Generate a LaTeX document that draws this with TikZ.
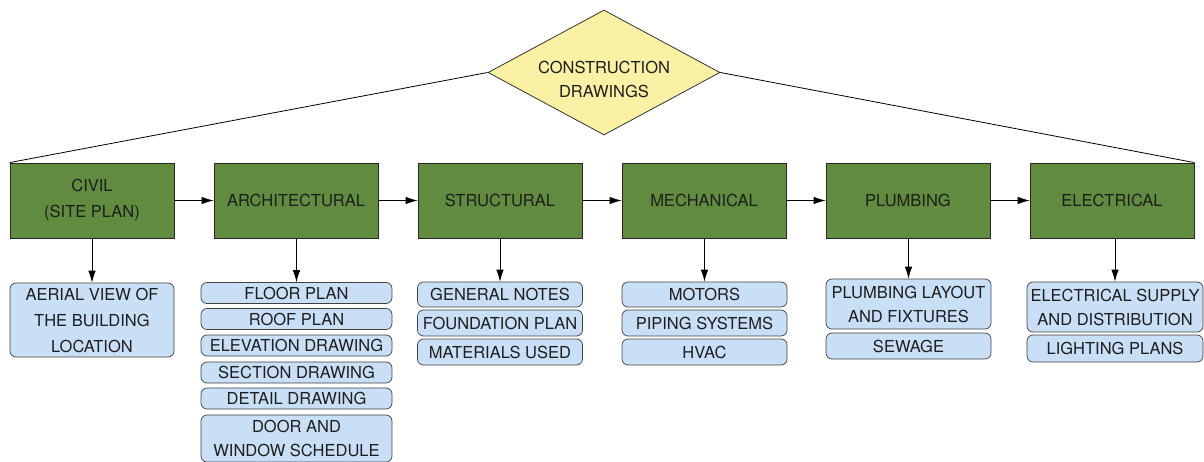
\documentclass[tikz,border=0pt]{standalone}
\usepackage{fontspec}
\setmainfont{TeX Gyre Heros}
\usetikzlibrary{shapes.geometric,arrows.meta}

\definecolor{drawgreen}{HTML}{618B3F}
\definecolor{drawblue}{HTML}{C9DFF5}
\definecolor{drawyellow}{HTML}{FBF1A4}
\definecolor{drawtext}{HTML}{1E1E1E}

\begin{document}
\begin{tikzpicture}[x=1pt,y=-1pt,
  top/.style={diamond, draw=black!80, fill=drawyellow, line width=0.8pt,
    minimum width=232pt, minimum height=125pt, aspect=1.856, inner sep=0pt,
    align=center, text=drawtext, font=\fontsize{16.5}{24}\selectfont},
  main/.style={rectangle, draw=black!85, fill=drawgreen, line width=0.8pt,
    minimum width=164pt, minimum height=75pt, inner sep=0pt,
    align=center, text=drawtext, font=\fontsize{16.5}{26}\selectfont},
  sub/.style={rectangle, rounded corners=6pt, draw=black!75, fill=drawblue,
    line width=0.7pt, inner sep=0pt, align=center, text=drawtext,
    font=\fontsize{16.5}{24}\selectfont},
  arr/.style={line width=0.8pt, -{Latex[length=12pt,width=7.5pt]}}]

\useasboundingbox (0,0) rectangle (1204,462);

% top
\node[top] (cd) at (604,72.5) {\raisebox{-13pt}[0pt][0pt]{\begin{tabular}{@{}c@{}}CONSTRUCTION\\DRAWINGS\end{tabular}}};

% main disciplines
\node[main] (civil) at (92,200.5) {CIVIL\\(SITE PLAN)};
\node[main] (arch) at (296,200.5) {ARCHITECTURAL};
\node[main] (struct) at (500,200.5) {STRUCTURAL};
\node[main] (mech) at (704,200.5) {MECHANICAL};
\node[main] (plumb) at (908,200.5) {PLUMBING};
\node[main] (elec) at (1112,200.5) {ELECTRICAL};

\draw[line width=0.8pt] (cd.west) -- (civil.north west);
\draw[line width=0.8pt] (cd.east) -- (elec.north east);

\draw[arr] (civil) -- (arch);
\draw[arr] (arch) -- (struct);
\draw[arr] (struct) -- (mech);
\draw[arr] (mech) -- (plumb);
\draw[arr] (plumb) -- (elec);

% civil
\node[sub, minimum width=164pt, minimum height=74pt, font=\fontsize{16.5}{26}\selectfont] (aerial) at (92,320) {AERIAL VIEW OF\\THE BUILDING\\LOCATION};

% architectural
\node[sub, minimum width=191pt, minimum height=21pt] (floor) at (296.5,293) {FLOOR PLAN};
\node[sub, minimum width=191pt, minimum height=21pt] (roof) at (296.5,319) {ROOF PLAN};
\node[sub, minimum width=191pt, minimum height=21pt] (elev) at (296.5,345.5) {ELEVATION DRAWING};
\node[sub, minimum width=191pt, minimum height=21pt] (sect) at (296.5,372.5) {SECTION DRAWING};
\node[sub, minimum width=191pt, minimum height=21pt] (detail) at (296.5,398.5) {DETAIL DRAWING};
\node[sub, minimum width=191pt, minimum height=47pt] (door) at (296.5,438.5) {DOOR AND\\WINDOW SCHEDULE};

% structural
\node[sub, minimum width=165pt, minimum height=25pt] (notes) at (500,294.5) {GENERAL NOTES};
\node[sub, minimum width=165pt, minimum height=26pt] (found) at (500,323) {FOUNDATION PLAN};
\node[sub, minimum width=165pt, minimum height=26pt] (mater) at (500,352) {MATERIALS USED};

% mechanical
\node[sub, minimum width=165pt, minimum height=25pt] (motors) at (704.5,294.5) {MOTORS};
\node[sub, minimum width=165pt, minimum height=26pt] (piping) at (704.5,323) {PIPING SYSTEMS};
\node[sub, minimum width=165pt, minimum height=26pt] (hvac) at (704.5,352) {HVAC};

% plumbing
\node[sub, minimum width=165pt, minimum height=50pt] (layout) at (908.5,304) {PLUMBING LAYOUT\\AND FIXTURES};
\node[sub, minimum width=165pt, minimum height=26pt] (sewage) at (908.5,346) {SEWAGE};

% electrical
\node[sub, minimum width=176pt, minimum height=50pt] (supply) at (1115,307) {ELECTRICAL SUPPLY\\AND DISTRIBUTION};
\node[sub, minimum width=176pt, minimum height=27pt] (light) at (1115,348.5) {LIGHTING PLANS};

\draw[arr] (civil.south -| aerial.north) -- (aerial.north);
\draw[arr] (arch.south -| floor.north) -- (floor.north);
\draw[arr] (struct.south -| notes.north) -- (notes.north);
\draw[arr] (mech.south -| motors.north) -- (motors.north);
\draw[arr] (plumb.south -| layout.north) -- (layout.north);
\draw[arr] (elec.south -| supply.north) -- (supply.north);

\end{tikzpicture}
\end{document}
